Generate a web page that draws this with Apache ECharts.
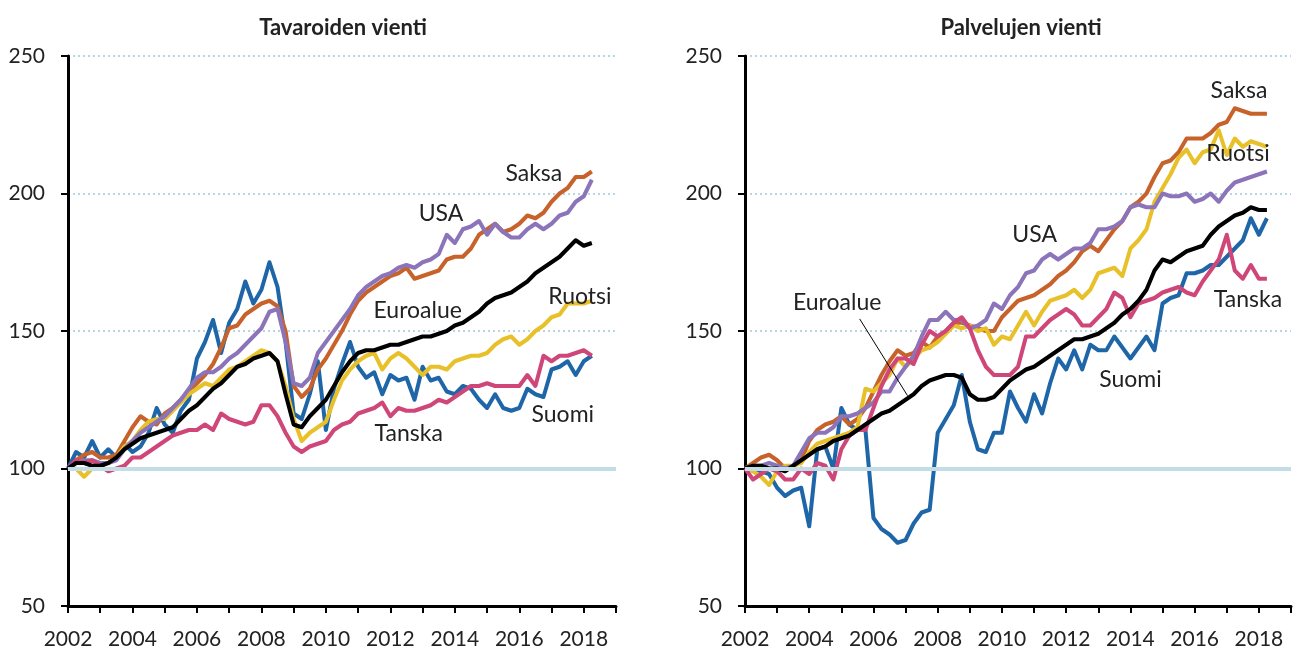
<!DOCTYPE html>
<html lang="fi">
<head>
  <meta charset="utf-8">
</head>
<body style="margin: 0; background: #ffffff">
  <div id="container" style="width: 1294px; height: 651px"></div>

  <script type="text/javascript" src="https://fastly.jsdelivr.net/npm/echarts@6/dist/echarts.min.js"></script>
  <script type="text/javascript">

// quarterly index, 2002Q1 = 100, data 2002Q1 .. 2018Q2
const years = [2002, 2003, 2004, 2005, 2006, 2007, 2008, 2009, 2010,
  2011, 2012, 2013, 2014, 2015, 2016, 2017, 2018];
const quarters = [];
years.forEach(function (y) {
  for (let q = 1; q <= 4; q++) quarters.push(y + 'Q' + q);
});
const quarterLabels = quarters.slice(0, 66);
const yearTickLabels = [2002, 2004, 2006, 2008, 2010, 2012, 2014, 2016, 2018];

const countries = ['Suomi', 'Saksa', 'Ruotsi', 'USA', 'Tanska', 'Euroalue'];
const colors = ['#1f66a8', '#c7622a', '#e8c12a', '#8b74b9', '#cf4679', '#000000'];

// Tavaroiden vienti
const suomiGoods = [100, 106, 104, 110, 104, 107, 104, 109, 106, 108, 113, 122,
  116, 113, 121, 125, 140, 146, 154, 142, 153, 158, 168, 160,
  165, 175, 166, 146, 120, 118, 127, 139, 114, 129, 138, 146,
  137, 133, 135, 127, 134, 132, 133, 125, 137, 132, 133, 128,
  127, 130, 129, 125, 122, 127, 122, 121, 122, 129, 127, 126,
  136, 137, 139, 134, 139, 141];
const saksaGoods = [100, 103, 105, 106, 104, 104, 105, 110, 115, 119, 117, 116,
  120, 122, 125, 128, 131, 134, 138, 144, 151, 152, 156, 158,
  160, 161, 159, 150, 130, 126, 129, 136, 140, 145, 150, 156,
  161, 164, 166, 168, 170, 171, 173, 169, 170, 171, 172, 176,
  177, 177, 180, 185, 187, 189, 186, 187, 189, 192, 191, 193,
  197, 200, 202, 206, 206, 208];
const ruotsiGoods = [100, 100, 97, 100, 101, 102, 104, 108, 110, 114, 117, 118,
  118, 121, 124, 127, 129, 131, 130, 133, 136, 137, 139, 141,
  143, 142, 139, 130, 118, 110, 113, 115, 117, 125, 132, 136,
  139, 141, 142, 136, 140, 142, 140, 137, 134, 137, 137, 136,
  139, 140, 141, 141, 142, 145, 147, 148, 145, 147, 150, 152,
  155, 156, 160, 160, 160, 161];
const usaGoods = [100, 102, 103, 103, 102, 102, 103, 107, 110, 113, 115, 117,
  119, 122, 125, 129, 133, 135, 135, 137, 140, 142, 145, 148,
  151, 157, 158, 146, 131, 130, 133, 142, 146, 150, 154, 158,
  163, 166, 168, 170, 171, 173, 174, 173, 175, 176, 178, 185,
  182, 187, 188, 190, 185, 189, 186, 184, 184, 187, 189, 187,
  189, 192, 193, 197, 199, 205];
const tanskaGoods = [100, 103, 102, 103, 101, 99, 100, 101, 104, 104, 106, 108,
  110, 112, 113, 114, 114, 116, 114, 120, 118, 117, 116, 117,
  123, 123, 119, 113, 108, 106, 108, 109, 110, 114, 116, 117,
  120, 121, 122, 124, 119, 122, 121, 121, 122, 123, 125, 124,
  126, 128, 130, 130, 131, 130, 130, 130, 130, 134, 130, 141,
  139, 141, 141, 142, 143, 141];
const euroGoods = [100, 102, 102, 101, 101, 102, 104, 107, 109, 111, 112, 113,
  114, 115, 118, 121, 123, 126, 129, 131, 134, 137, 138, 140,
  141, 142, 139, 127, 116, 115, 119, 122, 125, 130, 135, 139,
  142, 143, 143, 144, 145, 145, 146, 147, 148, 148, 149, 150,
  152, 153, 155, 157, 160, 162, 163, 164, 166, 168, 171, 173,
  175, 177, 180, 183, 181, 182];

// Palvelujen vienti
const suomiServices = [100, 100, 99, 98, 93, 90, 92, 93, 79, 107, 108, 100,
  122, 116, 114, 114, 82, 78, 76, 73, 74, 80, 84, 85,
  113, 118, 123, 134, 117, 107, 106, 113, 113, 128, 122, 117,
  127, 120, 131, 140, 136, 143, 136, 145, 143, 143, 148, 144,
  140, 144, 148, 143, 160, 162, 163, 171, 171, 172, 174, 174,
  177, 180, 183, 191, 185, 191];
const saksaServices = [100, 102, 104, 105, 103, 100, 101, 103, 110, 114, 116, 117,
  119, 116, 118, 122, 128, 134, 139, 143, 141, 142, 146, 144,
  148, 150, 153, 153, 152, 151, 150, 150, 155, 158, 161, 162,
  163, 165, 167, 170, 172, 175, 179, 181, 179, 183, 187, 190,
  195, 197, 200, 206, 211, 212, 215, 220, 220, 220, 222, 225,
  226, 231, 230, 229, 229, 229];
const ruotsiServices = [100, 99, 97, 94, 99, 101, 101, 102, 106, 109, 110, 111,
  112, 113, 115, 129, 128, 131, 134, 140, 137, 140, 143, 144,
  146, 149, 152, 151, 152, 150, 151, 145, 148, 147, 152, 157,
  152, 157, 161, 162, 163, 165, 162, 165, 171, 172, 173, 170,
  180, 183, 187, 197, 202, 207, 213, 216, 211, 215, 216, 223,
  214, 220, 217, 219, 218, 217];
const usaServices = [100, 101, 101, 102, 101, 100, 101, 106, 111, 113, 113, 115,
  119, 119, 120, 122, 124, 128, 128, 133, 137, 141, 148, 154,
  154, 157, 154, 154, 151, 152, 154, 160, 158, 163, 166, 171,
  172, 176, 178, 176, 178, 180, 180, 182, 187, 187, 188, 190,
  195, 196, 195, 195, 200, 199, 199, 200, 197, 198, 200, 197,
  201, 204, 205, 206, 207, 208];
const tanskaServices = [100, 96, 98, 100, 99, 96, 96, 100, 98, 102, 101, 96,
  107, 112, 114, 114, 122, 130, 136, 140, 140, 138, 145, 150,
  148, 150, 153, 155, 151, 143, 137, 134, 134, 134, 137, 148,
  148, 151, 154, 156, 158, 156, 152, 152, 155, 158, 164, 162,
  155, 160, 161, 162, 164, 165, 166, 164, 163, 168, 172, 176,
  185, 172, 169, 174, 169, 169];
const euroServices = [100, 101, 101, 100, 100, 99, 101, 103, 105, 107, 108, 110,
  111, 112, 114, 116, 118, 120, 121, 123, 125, 127, 130, 132,
  133, 134, 134, 133, 127, 125, 125, 126, 129, 132, 134, 136,
  137, 139, 141, 143, 145, 147, 147, 148, 149, 151, 153, 156,
  158, 161, 165, 172, 176, 175, 177, 179, 180, 181, 185, 188,
  190, 192, 193, 195, 194, 194];

const goods = [suomiGoods, saksaGoods, ruotsiGoods, usaGoods, tanskaGoods, euroGoods];
const services = [suomiServices, saksaServices, ruotsiServices, usaServices, tanskaServices, euroServices];

// series name labels, placed in data coordinates [year, index]
const goodsLabels = {
  Saksa: [2016.45, 207.3], USA: [2013.57, 192.7], Euroalue: [2012.85, 157.5],
  Ruotsi: [2017.88, 162.5], Suomi: [2017.35, 119.6], Tanska: [2012.57, 112.7]
};
const servicesLabels = {
  Saksa: [2017.38, 237.6], Ruotsi: [2017.35, 214.4], USA: [2011.02, 185],
  Euroalue: [2004.87, 160.2], Tanska: [2017.66, 161.6], Suomi: [2014.0, 132.5]
};
const euroPointer = [[2005.57, 154.4], [2007.06, 126.5]];

const font = 'Lato';
const xValues = quarterLabels.map(function (l) {
  return +l.slice(0, 4) + (+l.slice(5) - 1) / 4;
});

function xAxis(idx) {
  return {
    type: 'value', gridIndex: idx, min: 2002, max: 2019, interval: 1,
    axisLine: { lineStyle: { color: '#000', width: 3 } },
    axisTick: { length: 7, lineStyle: { color: '#000', width: 2 } },
    axisLabel: {
      color: '#222', fontSize: 21, fontFamily: font, margin: 23,
      formatter: function (v) { return yearTickLabels.indexOf(v) >= 0 ? String(v) : ''; }
    },
    splitLine: { show: false }
  };
}
function yAxis(idx) {
  return {
    type: 'value', gridIndex: idx, min: 50, max: 250, interval: 50,
    axisLine: { show: true, lineStyle: { color: '#000', width: 3 } },
    axisTick: { show: true, length: 7, lineStyle: { color: '#000', width: 2 } },
    axisLabel: { color: '#222', fontSize: 21, fontFamily: font, margin: 23 },
    splitLine: { lineStyle: { color: '#b9d5e4', width: 2, type: [2, 3] } }
  };
}

function makeSeries(idx, data, labels) {
  const list = [{
    type: 'line', xAxisIndex: idx, yAxisIndex: idx, data: [], z: 1, silent: true,
    markLine: {
      silent: true, symbol: ['none', 'none'], label: { show: false },
      lineStyle: { color: '#c3dde6', width: 4, type: 'solid' },
      data: [{ yAxis: 100 }]
    }
  }];
  countries.forEach(function (name, i) {
    const s = {
      name: name, type: 'line', xAxisIndex: idx, yAxisIndex: idx, z: 2,
      showSymbol: false, symbol: 'none',
      lineStyle: { color: colors[i], width: 4, join: 'round' },
      data: data[i].map(function (v, k) { return [xValues[k], v]; }),
      markPoint: {
        symbol: 'circle', symbolSize: 0, silent: true,
        label: {
          show: true, formatter: '{b}', color: '#222', fontSize: 23,
          fontFamily: font, position: 'inside'
        },
        data: [{ name: name, coord: labels[name] }]
      }
    };
    if (idx === 1 && name === 'Euroalue') {
      s.markLine = {
        silent: true, symbol: ['none', 'none'], label: { show: false },
        lineStyle: { color: '#000', width: 1, type: 'solid' },
        data: [[{ coord: euroPointer[0] }, { coord: euroPointer[1] }]]
      };
    }
    list.push(s);
  });
  return list;
}

var dom = document.getElementById('container');
var myChart = echarts.init(dom, null, { renderer: 'canvas' });
var option = {
  animation: false,
  backgroundColor: '#ffffff',
  title: [
    { text: 'Tavaroiden vienti', left: 338, top: 12, textAlign: 'center',
      textStyle: { fontSize: 22, fontWeight: 'bold', color: '#222', fontFamily: font } },
    { text: 'Palvelujen vienti', left: 1016, top: 12, textAlign: 'center',
      textStyle: { fontSize: 22, fontWeight: 'bold', color: '#222', fontFamily: font } }
  ],
  grid: [
    { left: 68, top: 56, width: 548, bottom: 45 },
    { left: 745, top: 56, width: 548, bottom: 45 }
  ],
  xAxis: [xAxis(0), xAxis(1)],
  yAxis: [yAxis(0), yAxis(1)],
  series: makeSeries(0, goods, goodsLabels).concat(makeSeries(1, services, servicesLabels))
};
myChart.setOption(option);
window.addEventListener('resize', myChart.resize);
  </script>
</body>
</html>
